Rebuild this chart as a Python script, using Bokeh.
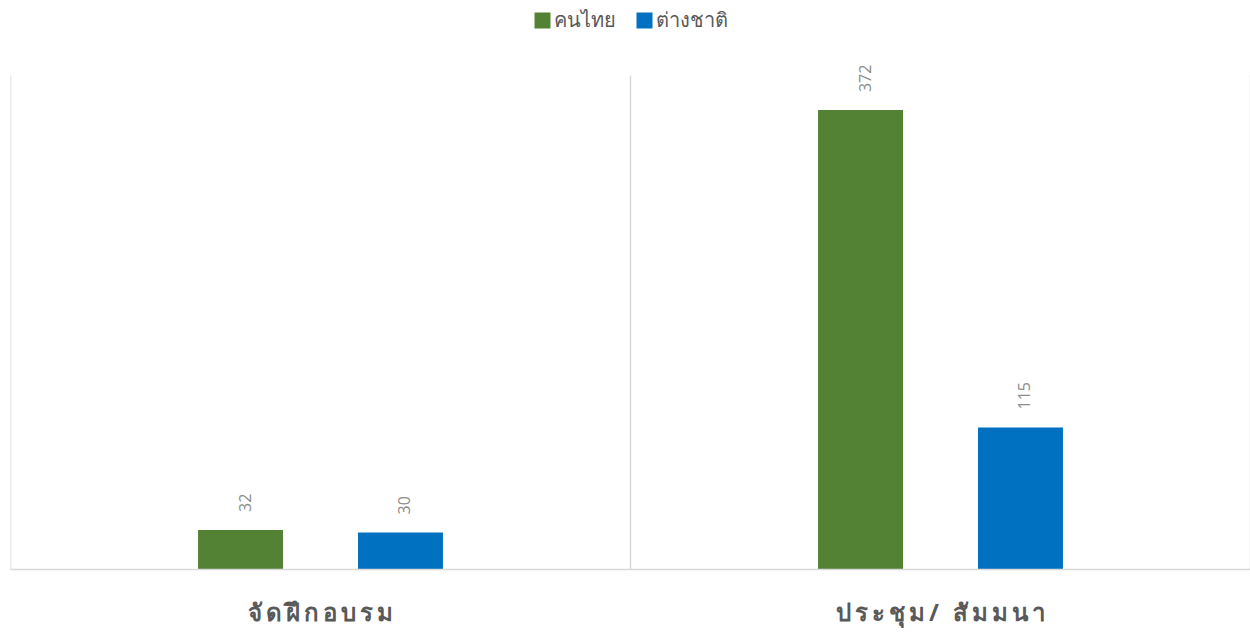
from bokeh.plotting import figure
from bokeh.models import ColumnDataSource, FactorRange, Legend, LegendItem, LabelSet
from bokeh.transform import dodge
from bokeh.core.properties import value
from bokeh.embed import file_html
from bokeh.resources import INLINE

categories = ["จัดฝึกอบรม", "ประชุม/ สัมมนา"]
series_names = ["คนไทย", "ต่างชาติ"]
thai_values = [32, 372]
foreign_values = [30, 115]
colors = ["#548235", "#0070C0"]

SP = "\u2009"
def spaced(s):
    # letter-spaced display form: split into Thai grapheme clusters
    marks = set("\u0e31\u0e34\u0e35\u0e36\u0e37\u0e38\u0e39\u0e3a\u0e47\u0e48\u0e49\u0e4a\u0e4b\u0e4c\u0e4d\u0e4e")
    clusters = []
    for ch in s:
        if ch in marks and clusters:
            clusters[-1] += ch
        else:
            clusters.append(ch)
    return SP.join(clusters)

display_cats = [spaced(c) for c in categories]

source = ColumnDataSource(dict(
    cat=display_cats,
    thai=thai_values,
    foreign=foreign_values,
    thai_lbl=[str(v) for v in thai_values],
    foreign_lbl=[str(v) for v in foreign_values],
))

W, H = 1250, 632
BOTTOM = 63
Y_MAX = 400
FRAME_H = H - BOTTOM
TOP_GAP = 75
y_end = Y_MAX * FRAME_H / (FRAME_H - TOP_GAP)

p = figure(width=W, height=H, x_range=FactorRange(*display_cats, range_padding=0),
           y_range=(0, y_end), output_backend="svg", toolbar_location=None,
           min_border_left=10, min_border_right=0, min_border_top=0, min_border_bottom=BOTTOM)
p.outline_line_color = None
p.background_fill_color = "white"
p.grid.visible = False
p.yaxis.visible = False

# category separators
p.segment(x0=[0, 1, 2], y0=[0, 0, 0], x1=[0, 1, 2], y1=[Y_MAX] * 3,
          line_color="#d9d9d9", line_width=1.5)

bw = 0.137
off = 0.129
r1 = p.vbar(x=dodge("cat", -off, range=p.x_range), top="thai", width=bw, source=source,
            fill_color=colors[0], line_color=None)
r2 = p.vbar(x=dodge("cat", off, range=p.x_range), top="foreign", width=bw, source=source,
            fill_color=colors[1], line_color=None)

for col, lbl, o in (("thai", "thai_lbl", -off), ("foreign", "foreign_lbl", off)):
    p.add_layout(LabelSet(x=dodge("cat", o, range=p.x_range), y=col, text=lbl, source=source,
                          angle=1.5708, text_align="left", text_baseline="middle",
                          x_offset=4, y_offset=18, text_font=value("Open Sans"),
                          text_font_size=value("16px"), text_color="#8c8c8c"))

p.xaxis.axis_line_color = "#d9d9d9"
p.xaxis.axis_line_width = 1.5
p.xaxis.major_tick_line_color = None
p.xaxis.minor_tick_line_color = None
p.xaxis.major_label_text_font = "Open Sans"
p.xaxis.major_label_text_font_size = "24px"
p.xaxis.major_label_text_font_style = "bold"
p.xaxis.major_label_text_color = "#595959"
p.xaxis.major_label_standoff = 19

legend = Legend(items=[LegendItem(label=series_names[0], renderers=[r1]),
                       LegendItem(label=series_names[1], renderers=[r2])],
                orientation="horizontal", location="top_center",
                label_text_font="Open Sans", label_text_font_size="20px",
                label_text_color="#595959", glyph_width=20, glyph_height=20,
                spacing=18, label_standoff=2, border_line_color=None,
                background_fill_alpha=0, margin=4, padding=2)
p.add_layout(legend)

open("out.html", "w").write(file_html(p, INLINE))
